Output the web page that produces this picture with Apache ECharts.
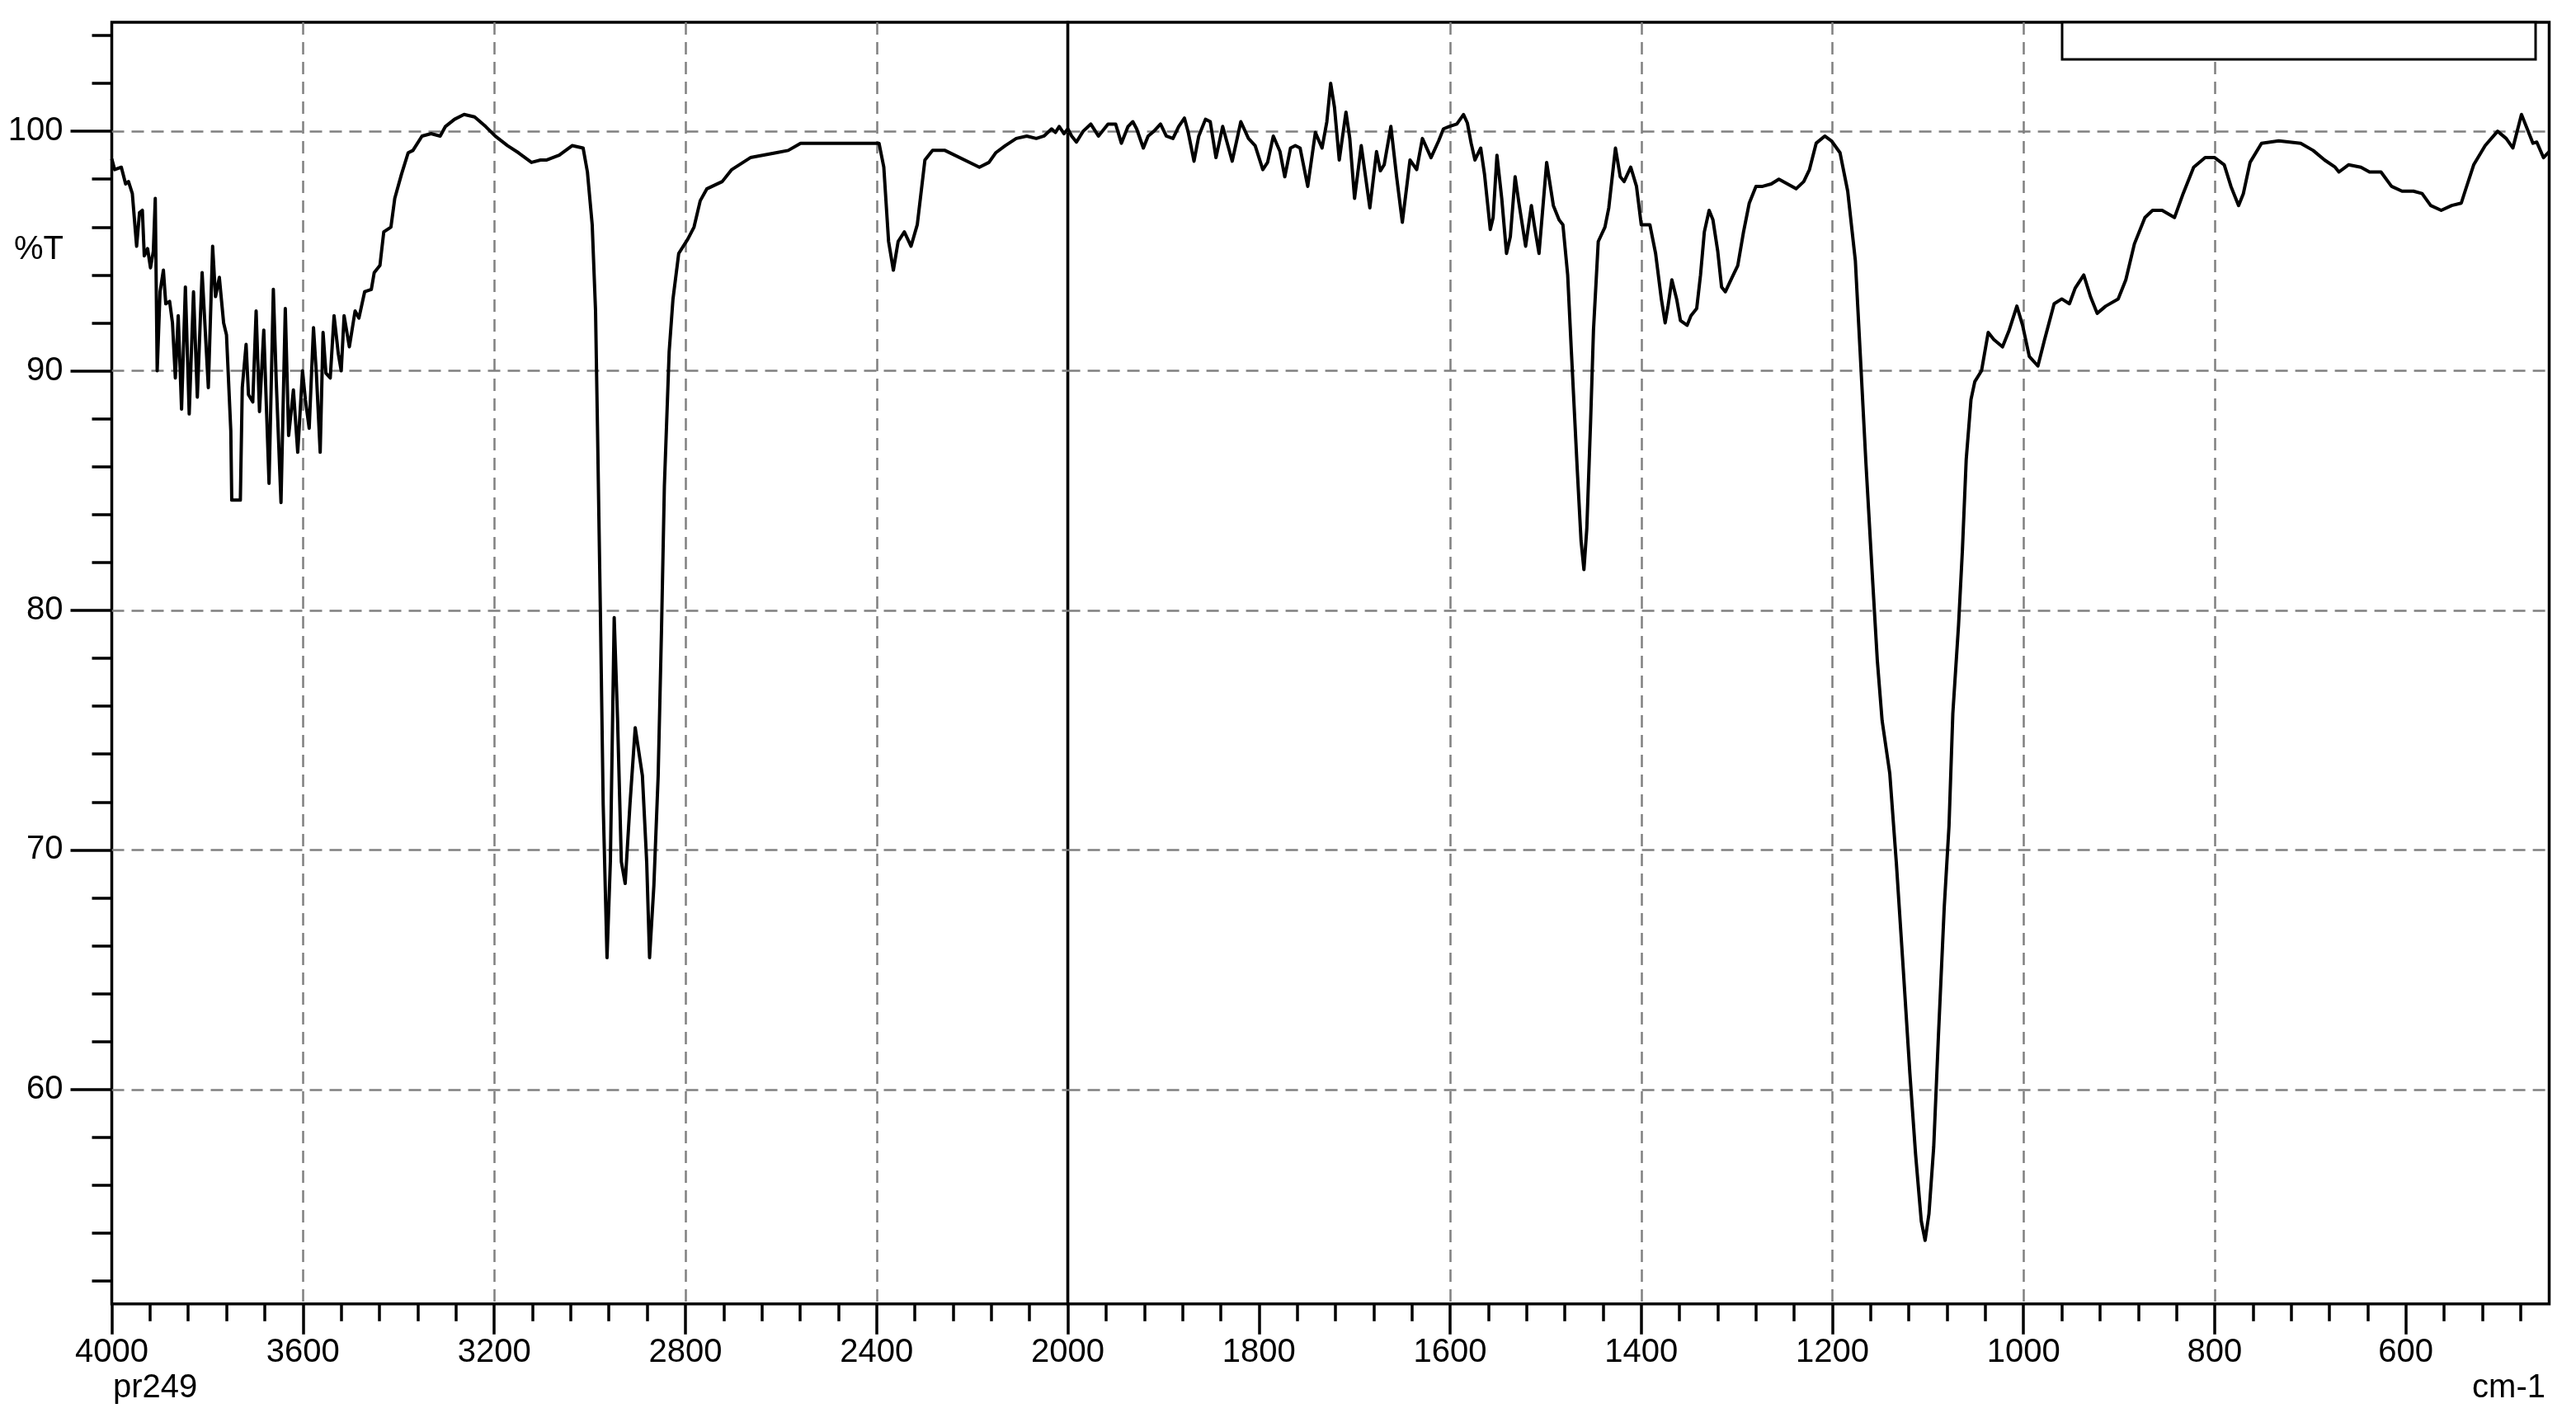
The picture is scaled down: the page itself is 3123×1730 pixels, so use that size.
<!DOCTYPE html>
<html><head><meta charset="utf-8">
<script src="https://cdn.jsdelivr.net/npm/echarts@6/dist/echarts.min.js"></script>
<style>html,body{margin:0;padding:0;background:#fff}#c{width:3123px;height:1730px}</style>
</head><body><div id="c"></div><script>
// ---- data ----
const leftWavenumber = [4000,3994,3980,3971,3965,3957,3948,3942,3936,3932,3925,3919,3913,3909,3905,3899,3892,3887,3879,3873,3867,3861,3854,3846,3838,3829,3821,3811,3798,3789,3783,3775,3766,3760,3751,3749,3731,3727,3719,3714,3705,3698,3691,3682,3676,3671,3662,3656,3646,3637,3630,3620,3611,3601,3595,3587,3578,3572,3564,3558,3552,3543,3535,3526,3520,3514,3503,3491,3483,3471,3457,3451,3439,3431,3416,3408,3394,3380,3370,3351,3332,3313,3302,3283,3263,3241,3218,3198,3172,3149,3122,3103,3090,3064,3037,3014,3005,2995,2988,2984,2978,2972,2964,2957,2949,2942,2934,2926,2916,2905,2890,2881,2875,2866,2857,2850,2844,2834,2826,2814,2795,2782,2769,2755,2723,2703,2664,2611,2585,2559,2487,2395,2385,2375,2365,2355,2342,2328,2315,2299,2283,2257,2185,2165,2151,2131,2108,2086,2066,2050,2034,2026,2018,2008,2000];
const leftTransmittance = [98.85,98.4,98.5,97.8,97.9,97.4,95.2,96.6,96.7,94.8,95.1,94.3,95.0,97.2,90.0,93.3,94.2,92.8,92.9,92.0,89.7,92.3,88.4,93.5,88.2,93.3,88.9,94.1,89.3,95.2,93.1,93.9,92.0,91.5,87.5,84.6,84.6,89.3,91.1,89.0,88.7,92.5,88.3,91.7,88.2,85.3,93.4,89.6,84.5,92.6,87.3,89.2,86.6,90.0,88.8,87.6,91.8,89.9,86.6,91.6,89.9,89.7,92.3,90.7,90.0,92.3,91.0,92.5,92.2,93.3,93.4,94.1,94.4,95.8,96.0,97.2,98.2,99.1,99.2,99.8,99.9,99.8,100.2,100.5,100.7,100.6,100.2,99.8,99.4,99.1,98.7,98.8,98.8,99.0,99.4,99.3,98.3,96.1,92.5,87.7,80.1,71.9,65.5,69.5,79.7,75.5,69.5,68.6,71.9,75.1,73.1,69.5,65.5,68.5,73.1,79.2,85.2,90.8,93.0,94.9,95.5,96.0,97.1,97.6,97.9,98.4,98.9,99.1,99.2,99.5,99.5,99.5,98.5,95.4,94.2,95.4,95.8,95.2,96.1,98.8,99.2,99.2,98.5,98.7,99.1,99.4,99.7,99.8,99.7,99.8,100.1,99.95,100.2,99.9,100.1];
const rightWavenumber = [2000,1996,1991,1984,1976,1968,1958,1950,1944,1937,1932,1928,1921,1916,1910,1903,1897,1890,1884,1878,1874,1868,1863,1856,1851,1845,1838,1828,1819,1811,1804,1796,1791,1785,1778,1773,1767,1762,1757,1749,1741,1734,1729,1725,1721,1716,1709,1705,1700,1693,1684,1677,1673,1669,1662,1656,1650,1642,1635,1629,1620,1612,1607,1601,1593,1586,1582,1578,1574,1568,1564,1558,1555,1551,1546,1541,1537,1532,1528,1521,1515,1512,1507,1499,1492,1486,1482,1477,1473,1467,1463,1460,1457,1453,1450,1445,1438,1434,1427,1422,1418,1411,1405,1400,1391,1385,1379,1375,1372,1368,1363,1359,1352,1348,1342,1338,1334,1329,1325,1320,1316,1312,1305,1299,1293,1287,1280,1273,1264,1256,1247,1238,1230,1224,1217,1208,1201,1192,1184,1176,1171,1165,1158,1153,1148,1140,1133,1126,1119,1113,1107,1103,1099,1094,1089,1083,1078,1074,1068,1064,1060,1055,1051,1044,1037,1031,1022,1015,1007,1001,994,985,978,968,960,952,946,937,930,923,914,901,893,884,873,865,855,842,833,822,810,800,790,783,775,770,763,751,733,710,697,685,674,670,660,647,638,626,615,604,592,583,574,563,552,542,538,529,517,504,495,488,479,474,467,463,456,450];
const rightTransmittance = [100.1,99.8,99.55,100.0,100.3,99.8,100.3,100.3,99.5,100.2,100.4,100.1,99.3,99.8,100.0,100.3,99.8,99.7,100.2,100.55,99.95,98.75,99.8,100.5,100.4,98.9,100.2,98.75,100.4,99.7,99.4,98.4,98.7,99.8,99.15,98.1,99.3,99.4,99.3,97.7,99.95,99.3,100.4,102.0,101.0,98.8,100.8,99.7,97.2,99.4,96.8,99.15,98.35,98.6,100.2,98.1,96.2,98.8,98.4,99.7,98.9,99.6,100.1,100.2,100.3,100.7,100.35,99.5,98.8,99.3,98.2,95.9,96.4,99.0,97.2,94.9,95.6,98.1,97.0,95.2,96.9,96.1,94.9,98.7,96.9,96.3,96.1,94.0,90.7,85.9,82.9,81.7,83.4,87.9,91.7,95.4,96.0,96.8,99.3,98.1,97.9,98.5,97.7,96.1,96.1,94.9,93.0,92.0,92.7,93.8,93.0,92.1,91.9,92.3,92.6,94.0,95.8,96.7,96.3,95.0,93.5,93.3,93.9,94.4,95.8,97.0,97.7,97.7,97.8,98.0,97.8,97.6,97.9,98.4,99.5,99.8,99.6,99.1,97.5,94.6,90.8,86.2,81.3,77.9,75.4,73.2,69.4,65.1,60.7,57.3,54.5,53.7,54.8,57.6,62.3,67.6,71.0,75.7,79.4,82.5,86.3,88.8,89.55,90.0,91.6,91.3,91.0,91.7,92.7,91.9,90.6,90.2,91.3,92.8,93.0,92.8,93.45,94.0,93.1,92.4,92.7,93.0,93.8,95.3,96.4,96.7,96.7,96.4,97.4,98.5,98.9,98.9,98.6,97.7,96.9,97.4,98.7,99.5,99.6,99.5,99.2,98.8,98.5,98.3,98.6,98.5,98.3,98.3,97.7,97.5,97.5,97.4,96.9,96.7,96.9,97.0,97.5,98.6,99.4,100.0,99.7,99.3,100.7,100.2,99.5,99.55,98.9,99.15];
const xLabelsLeft = [4000, 3600, 3200, 2800, 2400, 2000];
const xLabelsRight = [1800, 1600, 1400, 1200, 1000, 800, 600];
const yLabels = [60, 70, 80, 90, 100];
const textLabels = { yName: '%T', sample: 'pr249', unit: 'cm-1' };

// ---- layout ----
const L = 135.5, M = 1294.6, R = 3090.5, T = 27, B = 1580.7;
const Y_MIN = 51.05, Y_MAX = 104.55;
const FONT = "'Liberation Sans', Arial, Helvetica, sans-serif";
const FS = 40;

const minorRight = [];
for (let v = 480; v < 2000; v += 40) if (v % 200 !== 0) minorRight.push(v);
const minorY = [];
for (let v = 52; v <= 104; v += 2) if (v % 10 !== 0) minorY.push(v);

const gridLine = { color: '#808080', width: 2.5, type: [15, 9] };
const tickStyle = { color: '#000', width: 3.5 };
const plain = v => String(v);
const labelStyle = { color: '#000', fontSize: FS, fontFamily: FONT, formatter: plain };

const leftData = leftWavenumber.map((w, i) => [w, leftTransmittance[i]]);
const rightData = rightWavenumber.map((w, i) => [w, rightTransmittance[i]]);

const chart = echarts.init(document.getElementById('c'), null, { renderer: 'canvas' });
chart.setOption({
  animation: false,
  backgroundColor: '#fff',
  grid: [
    { left: L, top: T, width: M - L, height: B - T, show: true, borderColor: '#000', borderWidth: 3.5, backgroundColor: '#fff' },
    { left: M, top: T, width: R - M, height: B - T, show: true, borderColor: '#000', borderWidth: 3.5, backgroundColor: '#fff' }
  ],
  xAxis: [
    { gridIndex: 0, type: 'value', inverse: true, min: 2000, max: 4000, interval: 400, position: 'bottom',
      axisLine: { show: false },
      axisTick: { show: true, length: 37, lineStyle: tickStyle },
      minorTick: { show: true, splitNumber: 5, length: 21, lineStyle: tickStyle },
      axisLabel: Object.assign({ margin: 39, customValues: xLabelsLeft }, labelStyle),
      splitLine: { show: true, showMinLine: false, showMaxLine: false, lineStyle: gridLine },
      minorSplitLine: { show: false } },
    { gridIndex: 1, type: 'value', inverse: true, min: 450, max: 2000, splitNumber: 8, minInterval: 200, maxInterval: 200, position: 'bottom',
      axisLine: { show: false },
      axisTick: { show: true, length: 37, lineStyle: tickStyle, customValues: xLabelsRight },
      axisLabel: Object.assign({ margin: 39, customValues: xLabelsRight }, labelStyle),
      splitLine: { show: true, showMinLine: false, showMaxLine: false, lineStyle: gridLine } },
    { gridIndex: 1, type: 'value', inverse: true, min: 450, max: 2000, position: 'bottom',
      axisLine: { show: false },
      axisTick: { show: true, length: 21, lineStyle: tickStyle, customValues: minorRight },
      axisLabel: { show: false },
      splitLine: { show: false } }
  ],
  yAxis: [
    { gridIndex: 0, type: 'value', min: Y_MIN, max: Y_MAX, splitNumber: 5, minInterval: 10, maxInterval: 10, position: 'left',
      axisLine: { show: false },
      axisTick: { show: true, length: 50, lineStyle: tickStyle, customValues: yLabels },
      axisLabel: Object.assign({ margin: 59, customValues: yLabels }, labelStyle),
      splitLine: { show: true, showMinLine: true, showMaxLine: true, lineStyle: gridLine } },
    { gridIndex: 0, type: 'value', min: Y_MIN, max: Y_MAX, position: 'left',
      axisLine: { show: false },
      axisTick: { show: true, length: 24, lineStyle: tickStyle, customValues: minorY },
      axisLabel: { show: false },
      splitLine: { show: false } },
    { gridIndex: 1, type: 'value', min: Y_MIN, max: Y_MAX, splitNumber: 5, minInterval: 10, maxInterval: 10, position: 'left',
      axisLine: { show: false }, axisTick: { show: false }, axisLabel: { show: false },
      splitLine: { show: true, showMinLine: false, showMaxLine: false, lineStyle: gridLine } }
  ],
  series: [
    { type: 'line', xAxisIndex: 0, yAxisIndex: 0, data: leftData, showSymbol: false, symbol: 'none',
      lineStyle: { color: '#000', width: 4, join: 'round' }, z: 5, silent: true },
    { type: 'line', xAxisIndex: 1, yAxisIndex: 2, data: rightData, showSymbol: false, symbol: 'none',
      lineStyle: { color: '#000', width: 4, join: 'round' }, z: 5, silent: true }
  ],
  graphic: [
    { type: 'rect', shape: { x: 2500, y: T, width: 574, height: 45 }, style: { fill: '#fff', stroke: '#000', lineWidth: 3 }, z: 100 },
    { type: 'text', x: 77, y: 303, style: { text: textLabels.yName, fontSize: FS, fontFamily: FONT, fill: '#000', align: 'right', verticalAlign: 'middle', textAlign: 'right', textVerticalAlign: 'middle' }, z: 100 },
    { type: 'text', x: 137, y: 1683, style: { text: textLabels.sample, fontSize: FS, fontFamily: FONT, fill: '#000', align: 'left', verticalAlign: 'middle', textAlign: 'left', textVerticalAlign: 'middle' }, z: 100 },
    { type: 'text', x: 3086, y: 1683, style: { text: textLabels.unit, fontSize: FS, fontFamily: FONT, fill: '#000', align: 'right', verticalAlign: 'middle', textAlign: 'right', textVerticalAlign: 'middle' }, z: 100 }
  ]
});
</script></body></html>
